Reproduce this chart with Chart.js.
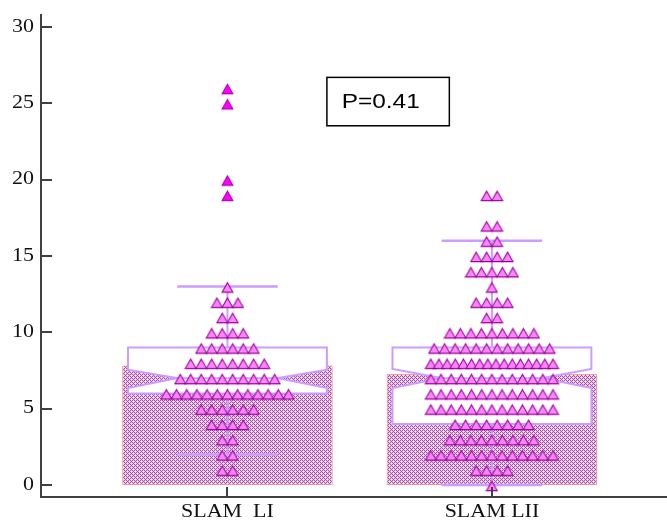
<!DOCTYPE html>
<html>
<head>
<meta charset="utf-8">
<script src="https://cdn.jsdelivr.net/npm/chart.js@4/dist/chart.umd.min.js"></script>
<style>
  html, body { margin: 0; padding: 0; background: #ffffff; }
  canvas { display: block; }
</style>
</head>
<body>
<canvas id="chart" width="667" height="523"></canvas>
<script>
// Groups and dot-plot data: number of patients at each SLAM score (index = score)
const categories = ['SLAM  LI', 'SLAM LII'];
const countsLI  = [0, 2, 2, 2, 4, 6, 13, 10, 8, 6, 4, 2, 3, 1, 0, 0, 0, 0, 0, 1, 1, 0, 0, 0, 0, 1, 1];
const countsLII = [1, 4, 13, 9, 8, 13, 13, 13, 16, 12, 9, 2, 4, 1, 5, 4, 2, 2, 0, 2, 0, 0, 0, 0, 0, 0, 0];

// Group means (bars) and notched box-plot summaries
const means       = [7.8, 7.25];
const q1          = [6, 4];
const medians     = [7, 7];
const q3          = [9, 9];
const whiskerLow  = [2, 0];
const whiskerHigh = [13, 16];
const notchLow    = [6.35, 6.35];
const notchHigh   = [7.55, 7.6];

const yTickValues = [0, 5, 10, 15, 20, 25, 30];
const pValueText = 'P=0.41';

// ---- layout constants (in x-axis units, one unit between group centres) ----
const DOT_STEP   = 0.0397;  // spacing between neighbouring markers in a row
const DOT_SPREAD = 0.462;   // widest a row may get before markers are packed tighter
const BOX_HALF   = 0.376;
const NOTCH_HALF = 0.19;
const CAP_HALF   = 0.19;
const TEXT_STRETCH = 1.22;

// Spread each score's markers symmetrically around the group centre
function dotRows(counts, centre, keep) {
  const pts = [];
  counts.forEach((n, score) => {
    if (!n || !keep(score)) return;
    const step = n > 1 ? Math.min(DOT_STEP, DOT_SPREAD / (n - 1)) : 0;
    for (let i = 0; i < n; i++) {
      pts.push({ x: centre + (i - (n - 1) / 2) * step, y: score });
    }
  });
  return pts;
}

const groups = [countsLI, countsLII];
const farFence = q3.map((v, i) => v + 3 * (v - q1[i]));
let innerPts = [], farPts = [];
groups.forEach((counts, g) => {
  innerPts = innerPts.concat(dotRows(counts, g + 1, s => s <= farFence[g]));
  farPts   = farPts.concat(dotRows(counts, g + 1, s => s > farFence[g]));
});

// Triangle marker sprite (sits slightly below its value, as in the dot plot style)
function triangleSprite(fill, stroke) {
  const c = document.createElement('canvas');
  c.width = 13; c.height = 16;
  const g = c.getContext('2d');
  g.beginPath();
  g.moveTo(6.5, 4.2);
  g.lineTo(11.9, 13.6);
  g.lineTo(1.1, 13.6);
  g.closePath();
  g.fillStyle = fill;
  g.fill();
  g.lineWidth = 1.1;
  g.lineJoin = 'miter';
  g.strokeStyle = stroke;
  g.stroke();
  return c;
}

// Fine cross-hatch fill for the mean bars
function hatchPattern() {
  const c = document.createElement('canvas');
  c.width = 4; c.height = 4;
  const g = c.getContext('2d');
  g.fillStyle = '#a452a4';
  g.fillRect(0, 0, 4, 4);
  g.fillStyle = '#ecc6ec';
  [[0, 1], [2, 1], [1, 0], [1, 2], [2, 3], [0, 3], [3, 2], [3, 0]].forEach(p => g.fillRect(p[0], p[1], 1, 1));
  g.fillStyle = '#ffffff';
  g.fillRect(1, 1, 1, 1);
  g.fillRect(3, 3, 1, 1);
  return g.createPattern(c, 'repeat');
}

const canvas = document.getElementById('chart');
const ctx = canvas.getContext('2d');

// Notched boxes (white-filled) and whiskers, drawn over the bars and under the markers
const boxPlugin = {
  id: 'notchedBoxes',
  afterDatasetDraw(chart, args) {
    if (args.index !== 0) return;
    const xs = chart.scales.x, ys = chart.scales.y;
    const c = chart.ctx;
    const X = v => xs.getPixelForValue(v);
    const Y = v => ys.getPixelForValue(v);
    c.save();
    c.strokeStyle = '#cc9cff';
    c.fillStyle = '#ffffff';
    c.lineWidth = 2;
    c.lineJoin = 'miter';
    categories.forEach((_, i) => {
      const cx = i + 1;
      c.beginPath();
      c.moveTo(X(cx - BOX_HALF), Y(q3[i]));
      c.lineTo(X(cx + BOX_HALF), Y(q3[i]));
      c.lineTo(X(cx + BOX_HALF), Y(notchHigh[i]));
      c.lineTo(X(cx + NOTCH_HALF), Y(medians[i]));
      c.lineTo(X(cx + BOX_HALF), Y(notchLow[i]));
      c.lineTo(X(cx + BOX_HALF), Y(q1[i]));
      c.lineTo(X(cx - BOX_HALF), Y(q1[i]));
      c.lineTo(X(cx - BOX_HALF), Y(notchLow[i]));
      c.lineTo(X(cx - NOTCH_HALF), Y(medians[i]));
      c.lineTo(X(cx - BOX_HALF), Y(notchHigh[i]));
      c.closePath();
      c.fill();
      c.stroke();
      // median
      c.beginPath();
      c.moveTo(X(cx - NOTCH_HALF), Y(medians[i]));
      c.lineTo(X(cx + NOTCH_HALF), Y(medians[i]));
      // whiskers
      c.moveTo(X(cx), Y(q3[i]));
      c.lineTo(X(cx), Y(whiskerHigh[i]));
      c.moveTo(X(cx), Y(q1[i]));
      c.lineTo(X(cx), Y(whiskerLow[i]));
      c.stroke();
      c.lineWidth = 2.5;
      c.beginPath();
      c.moveTo(X(cx - CAP_HALF), Y(whiskerHigh[i]));
      c.lineTo(X(cx + CAP_HALF), Y(whiskerHigh[i]));
      c.moveTo(X(cx - CAP_HALF), Y(whiskerLow[i]));
      c.lineTo(X(cx + CAP_HALF), Y(whiskerLow[i]));
      c.stroke();
      c.lineWidth = 2;
    });
    c.restore();
  }
};

function stretchedText(c, text, x, y, align) {
  c.save();
  c.translate(x, y);
  c.scale(TEXT_STRETCH, 1);
  c.textAlign = align;
  c.fillText(text, 0, 0);
  c.restore();
}

// Inward tick marks, tick labels and the P-value box
const axisPlugin = {
  id: 'axisDecor',
  afterDraw(chart) {
    const xs = chart.scales.x, ys = chart.scales.y;
    const area = chart.chartArea;
    const c = chart.ctx;
    c.save();
    c.strokeStyle = '#404040';
    c.lineWidth = 2;
    c.beginPath();
    yTickValues.forEach(v => {
      const py = Math.round(ys.getPixelForValue(v));
      c.moveTo(area.left, py);
      c.lineTo(area.left + 11, py);
    });
    categories.forEach((_, i) => {
      const px = Math.round(xs.getPixelForValue(i + 1));
      c.moveTo(px, area.bottom);
      c.lineTo(px, area.bottom - 10);
    });
    c.stroke();

    c.fillStyle = '#111111';
    c.textBaseline = 'middle';
    c.font = '18px "Liberation Serif", "Times New Roman", serif';
    yTickValues.forEach(v => {
      stretchedText(c, String(v), area.left - 7, ys.getPixelForValue(v), 'right');
    });
    c.textBaseline = 'alphabetic';
    categories.forEach((label, i) => {
      stretchedText(c, label, xs.getPixelForValue(i + 1), area.bottom + 20, 'center');
    });

    // P-value annotation
    const left = xs.getPixelForValue(1.376), right = xs.getPixelForValue(1.839);
    const top = ys.getPixelForValue(26.7), bottom = ys.getPixelForValue(23.53);
    c.fillStyle = '#ffffff';
    c.fillRect(left, top, right - left, bottom - top);
    c.strokeStyle = '#000000';
    c.lineWidth = 1.5;
    c.strokeRect(left, top, right - left, bottom - top);
    c.fillStyle = '#000000';
    c.font = '20px "Liberation Sans", Arial, sans-serif';
    stretchedText(c, pValueText, xs.getPixelForValue(1.432), ys.getPixelForValue(24.67), 'left');
    c.restore();
  }
};

new Chart(ctx, {
  type: 'bar',
  data: {
    datasets: [
      {
        type: 'bar',
        data: means.map((m, i) => ({ x: i + 1, y: m })),
        backgroundColor: hatchPattern(),
        borderColor: '#ff9a9a',
        borderWidth: 1,
        borderSkipped: false,
        barThickness: 210,
        order: 3
      },
      {
        type: 'scatter',
        data: innerPts,
        pointStyle: triangleSprite('#ff85ff', '#990099'),
        pointRadius: 6,
        order: 2
      },
      {
        type: 'scatter',
        data: farPts,
        pointStyle: triangleSprite('#ff00ff', '#b000b0'),
        pointRadius: 6,
        order: 1
      }
    ]
  },
  options: {
    responsive: false,
    animation: false,
    devicePixelRatio: 1,
    layout: { autoPadding: false, padding: { top: 15, left: 0, right: 0, bottom: 0 } },
    plugins: { legend: { display: false }, tooltip: { enabled: false } },
    scales: {
      x: {
        type: 'linear',
        min: 0.295,
        max: 2.662,
        offset: false,
        grid: { display: false, drawTicks: false },
        border: { display: true, color: '#404040', width: 2 },
        ticks: { display: false },
        afterFit(scale) { scale.height = 26; }
      },
      y: {
        type: 'linear',
        min: -0.786,
        max: 30.786,
        grid: { display: false, drawTicks: false },
        border: { display: true, color: '#404040', width: 2 },
        ticks: { display: false, stepSize: 5, includeBounds: false },
        afterFit(scale) { scale.width = 41; }
      }
    }
  },
  plugins: [boxPlugin, axisPlugin]
});
</script>
</body>
</html>
